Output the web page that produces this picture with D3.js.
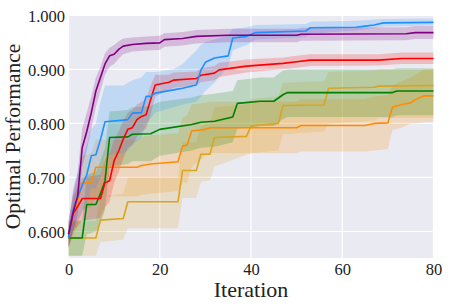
<!DOCTYPE html>
<html>
<head>
<meta charset="utf-8">
<script src="https://cdn.jsdelivr.net/npm/d3@7/dist/d3.min.js"></script>
<style>
  body { margin: 0; background: #fff; }
  text { font-family: "Liberation Serif", "Times New Roman", serif; fill: #222; }
</style>
</head>
<body>
<script>
// each row: [iteration, mean, lower, upper]
const goldSeries = [
  [0, .588, .555, .615], [6, .588, .555, .62], [7, .621, .58, .665], [12, .624, .585, .67],
  [13, .655, .606, .70], [24, .655, .606, .70], [25, .713, .662, .765], [28, .713, .662, .765],
  [29, .743, .692, .795], [31, .743, .695, .80], [32, .774, .72, .83], [39, .776, .742, .835],
  [40, .795, .745, .845], [46, .80, .75, .85], [47, .833, .78, .875], [56, .834, .785, .878],
  [57, .865, .80, .895], [67, .867, .805, .898], [68, .869, .81, .90], [80, .87, .81, .90]
];
const orangeSeries = [
  [0, .595, .57, .62], [1, .63, .59, .67], [2, .655, .61, .70], [3, .69, .64, .74],
  [5, .69, .645, .745], [6, .719, .665, .77], [15, .719, .665, .77], [16, .722, .668, .775],
  [18, .725, .67, .778], [24, .729, .675, .782], [25, .758, .69, .81], [26, .76, .69, .815],
  [27, .786, .72, .835], [30, .789, .74, .838], [31, .792, .745, .84], [50, .792, .745, .84],
  [51, .796, .748, .845], [65, .796, .748, .845], [67, .80, .75, .85], [70, .801, .752, .852],
  [71, .83, .788, .87], [73, .835, .792, .878], [75, .838, .80, .885], [76, .844, .80, .89],
  [78, .851, .802, .90], [80, .851, .802, .90]
];
const greenSeries = [
  [0, .588, .555, .62], [3, .588, .555, .62], [4, .65, .595, .705], [6, .65, .60, .71],
  [7, .67, .615, .73], [8, .694, .64, .755], [9, .774, .72, .822], [13, .775, .725, .825],
  [14, .78, .73, .83], [18, .781, .73, .832], [20, .789, .74, .84], [27, .798, .75, .848],
  [29, .802, .755, .852], [32, .804, .757, .855], [36, .812, .765, .86], [37, .837, .79, .88],
  [42, .841, .795, .885], [45, .841, .795, .885], [47, .853, .808, .898], [48, .857, .812, .90],
  [71, .857, .812, .90], [72, .86, .815, .902], [80, .86, .815, .902]
];
const redSeries = [
  [0, .59, .57, .61], [1, .633, .60, .665], [2, .646, .61, .68], [3, .661, .62, .70],
  [7, .661, .625, .705], [8, .69, .645, .735], [9, .694, .655, .745], [10, .731, .69, .77],
  [11, .749, .71, .785], [12, .771, .735, .805], [13, .789, .755, .82], [14, .792, .76, .825],
  [15, .807, .775, .835], [16, .813, .785, .84], [17, .816, .79, .845], [18, .844, .815, .87],
  [19, .871, .85, .89], [22, .876, .862, .89], [23, .88, .866, .894], [28, .883, .87, .896],
  [29, .889, .876, .902], [32, .893, .88, .906], [33, .899, .886, .912], [39, .906, .894, .918],
  [47, .911, .90, .922], [50, .914, .903, .925], [53, .917, .906, .928], [68, .917, .907, .928],
  [73, .92, .91, .931], [80, .92, .91, .931]
];
const blueSeries = [
  [0, .588, .57, .61], [1, .64, .60, .68], [2, .665, .62, .71], [3, .685, .635, .735],
  [4, .705, .65, .76], [5, .74, .68, .79], [6, .742, .68, .80], [7, .77, .70, .84],
  [8, .803, .74, .87], [12, .806, .745, .87], [13, .807, .75, .875], [14, .819, .76, .88],
  [16, .82, .775, .885], [17, .85, .80, .895], [18, .85, .81, .895], [19, .856, .82, .895],
  [23, .862, .83, .90], [25, .865, .835, .91], [28, .871, .84, .935], [29, .898, .85, .945],
  [30, .913, .86, .95], [32, .921, .875, .955], [35, .925, .905, .962], [36, .958, .935, .975],
  [39, .961, .945, .978], [41, .968, .955, .982], [52, .971, .96, .984], [53, .977, .966, .988],
  [63, .978, .972, .99], [65, .98, .974, .991], [67, .982, .976, .992], [69, .986, .979, .993],
  [80, .987, .981, .994]
];
const purpleSeries = [
  [0, .595, .57, .62], [1, .635, .60, .67], [2, .665, .63, .71], [3, .755, .72, .79],
  [4, .785, .75, .82], [5, .82, .79, .85], [6, .86, .83, .885], [7, .885, .86, .905],
  [8, .91, .89, .93], [9, .925, .905, .94], [10, .928, .91, .945], [11, .937, .92, .952],
  [12, .943, .928, .957], [14, .946, .933, .959], [17, .948, .935, .961], [20, .949, .936, .962],
  [21, .955, .942, .967], [25, .957, .944, .969], [28, .961, .948, .973], [35, .963, .95, .975],
  [50, .963, .95, .975], [51, .965, .953, .977], [74, .966, .954, .978], [76, .968, .956, .98],
  [80, .968, .956, .98]
];

const seriesColors = ["#DAA520", "#FF8C00", "#008000", "#FF0000", "#1E90FF", "#800080"];
const allSeries = [goldSeries, orangeSeries, greenSeries, redSeries, blueSeries, purpleSeries];

const xTicks = [0, 20, 40, 60, 80];
const yTicks = [0.6, 0.7, 0.8, 0.9, 1.0];

const serif = '"Liberation Serif", "Times New Roman", serif';

let width = 457,
    height = 305;

let margin = { top: 15.3, bottom: 47, left: 68.5, right: 23.5 };

let svg = d3.select('body')
            .append('svg')
            .attr('width', width)
            .attr('height', height);

let xScale = d3.scaleLinear()
              .domain([0, 80])
              .range([margin.left, width - margin.right]);

let yScale = d3.scaleLinear()
              .domain([0.551, 1.0])
              .range([height - margin.bottom, margin.top]);

// background
svg.append('rect')
   .attr('x', margin.left)
   .attr('y', margin.top)
   .attr('width', width - margin.left - margin.right)
   .attr('height', height - margin.top - margin.bottom)
   .attr('fill', '#EAEAF2');

// grid lines
svg.append('g')
   .selectAll('line')
   .data(xTicks)
   .enter()
   .append('line')
   .attr('x1', d => xScale(d)).attr('x2', d => xScale(d))
   .attr('y1', margin.top).attr('y2', height - margin.bottom)
   .attr('stroke', '#fff').attr('stroke-width', 1.2);

svg.append('g')
   .selectAll('line')
   .data(yTicks)
   .enter()
   .append('line')
   .attr('x1', margin.left).attr('x2', width - margin.right)
   .attr('y1', d => yScale(d)).attr('y2', d => yScale(d))
   .attr('stroke', '#fff').attr('stroke-width', 1.2);

// bands
let area = d3.area()
            .x(d => xScale(d[0]))
            .y0(d => yScale(d[2]))
            .y1(d => yScale(d[3]));

svg.selectAll('.band')
   .data(allSeries)
   .enter()
   .append('path')
   .attr('class', 'band')
   .attr('fill', (d, i) => seriesColors[i])
   .attr('fill-opacity', 0.2)
   .attr('d', d => area(d));

// mean lines
let line = d3.line()
            .x(d => xScale(d[0]))
            .y(d => yScale(d[1]));

svg.selectAll('.mean-line')
   .data(allSeries)
   .enter()
   .append('path')
   .attr('class', 'mean-line')
   .attr('fill', 'none')
   .attr('stroke', (d, i) => seriesColors[i])
   .attr('stroke-width', 1.6)
   .attr('stroke-linejoin', 'round')
   .attr('d', d => line(d));

// axes
let xAxis = svg.append('g')
              .attr('transform', `translate(0, ${height - margin.bottom})`)
              .call(d3.axisBottom(xScale).tickValues(xTicks).tickSize(0).tickPadding(5));

let yAxis = svg.append('g')
              .attr('transform', `translate(${margin.left}, 0)`)
              .call(d3.axisLeft(yScale).tickValues(yTicks).tickFormat(d3.format('.3f')).tickSize(0).tickPadding(3.5));

[xAxis, yAxis].forEach(ax => {
  ax.attr('font-family', serif).attr('font-size', 16.5);
  ax.select('.domain').remove();
  ax.selectAll('text').attr('fill', '#222');
});
yAxis.selectAll('text').attr('dy', '0.36em');

// labels
svg.append('text')
   .attr('x', (margin.left + width - margin.right) / 2)
   .attr('y', 297)
   .text('Iteration')
   .attr('font-family', serif)
   .style('text-anchor', 'middle')
   .style('font-size', '22px');

svg.append('text')
   .attr('x', -136.5)
   .attr('y', 19.5)
   .text('Optimal Performance')
   .attr('font-family', serif)
   .style('text-anchor', 'middle')
   .style('font-size', '21.5px')
   .attr('transform', 'rotate(-90)');
</script>
</body>
</html>
